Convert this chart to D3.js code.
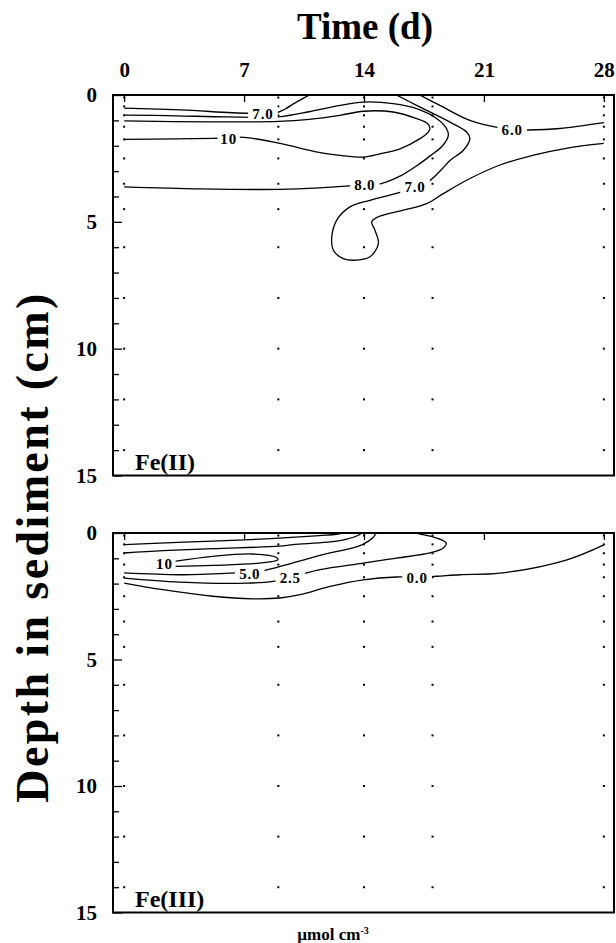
<!DOCTYPE html>
<html><head><meta charset="utf-8">
<script src="https://cdn.jsdelivr.net/npm/d3@7"></script>
<style>
body{margin:0;background:#fff}
svg{display:block}
text{font-family:"Liberation Serif","Times New Roman",serif;font-weight:bold;fill:#000}
</style>
</head><body><svg id="c" width="616" height="943"></svg>
<script>
// ---------- data ----------
const dayTicks = [0, 7, 14, 21, 28];
const depthTicks = d3.range(0, 16);
const depthLabels = [0, 5, 10, 15];
const sampleDays = [0, 9, 14, 18, 28];
const sampleDepths = [0.1, 0.45, 0.8, 1.25, 1.75, 2.5, 3.5, 4.5, 6, 8, 10, 12, 14];

// Fe(II) contour lines: [day, depth cm]
const fe2_7a = [[0,0.52],[3.3,0.59],[7.2,0.72],[8.9,0.7],[9.4,0.55],[9.9,0.34],[10.4,0.15],[10.9,-0.03]];
const fe2_8 = [[0,3.62],[4.4,3.7],[9.1,3.72],[11.4,3.66],[13.3,3.57],[14.1,3.55],[15.0,3.49],[16.1,3.2],[17.1,2.78],[17.9,2.38],[18.6,1.99],[18.92,1.59],[18.82,1.33],[18.24,0.93],[17.07,0.54],[15.71,0.34],[13.96,0.28],[12.6,0.41],[10.8,0.66],[9,0.86],[6,0.86],[3,0.82],[0,0.79]];
const fe2_10 = [[0,1.75],[3,1.73],[5.2,1.71],[7,1.67],[9.1,1.91],[11.2,2.24],[12.6,2.38],[13.96,2.45],[14.93,2.32],[16.1,2.12],[17.27,1.72],[17.75,1.46],[17.85,1.3],[17.7,1.12],[17.07,0.93],[15.71,0.67],[13.96,0.64],[12.6,0.8],[10.8,0.96],[9,1.04],[5,1.06],[0,1.02]];
const fe2_7b = [[15.81,-0.03],[17.07,0.41],[19.02,1.07],[19.99,1.46],[20.18,1.72],[19.8,2.18],[19.02,2.58],[18.55,2.92],[17.75,3.42],[16.98,3.62],[16.2,3.82],[14.35,4.15],[13.18,4.41],[12.41,4.93],[12.12,5.59],[12.21,6.12],[12.79,6.45],[13.57,6.51],[14.35,6.38],[14.84,5.86],[14.64,5.33],[14.45,5.0],[14.84,4.8],[16.29,4.54],[17.66,4.28],[18.63,3.89],[19.99,3.36],[21.93,2.76],[23.9,2.37],[25.8,2.1],[28,1.91]];
const fe2_6 = [[17.17,-0.03],[18.43,0.41],[19.99,0.95],[21.35,1.22],[22.65,1.37],[23.6,1.38],[25.43,1.32],[28,1.09]];
const fe2Labels = ["7.0", "10", "8.0", "7.0", "6.0"];
const fe2LabelDays = [8.1, 6.1, 14.05, 16.98, 22.65];
const fe2LabelDepths = [0.72, 1.71, 3.55, 3.62, 1.37];

// Fe(III) contour lines
const fe3_a = [[0,0.46],[3.5,0.36],[7.06,0.27],[9.06,0.2],[11.4,0.1],[12.4,0.05],[12.9,-0.03]];
const fe3_b = [[0,0.79],[2.26,0.7],[5.18,0.62],[9.06,0.52],[9.86,0.46],[12.6,0.3],[13.67,0.09],[13.9,-0.03]];
const fe3_10 = [[2.94,1.12],[5.18,0.92],[7.5,0.83],[8.87,0.96],[8.97,1.06],[7.9,1.19],[5.18,1.28],[2.94,1.32]];
const fe3_5 = [[0,1.58],[3.25,1.65],[6.55,1.58],[7.33,1.57],[8.11,1.49],[9.5,1.25],[12.02,0.79],[13.3,0.6],[13.96,0.44],[14.5,0.2],[14.74,-0.03]];
const fe3_25 = [[0,1.78],[3.25,1.94],[7.14,1.98],[8.69,1.91],[9.7,1.76],[10.27,1.65],[11.43,1.45],[13.96,1.19],[15.91,0.99],[17.85,0.79],[18.63,0.59],[18.8,0.4],[18.24,0.2],[17.27,0.04],[16.7,-0.03]];
const fe3_0 = [[0,1.98],[2.26,2.24],[5.18,2.5],[7.5,2.6],[9.1,2.57],[10.27,2.44],[12.02,2.11],[13.96,1.85],[15.91,1.74],[17.08,1.75],[18.24,1.71],[19.6,1.65],[21.93,1.59],[25.8,1.07],[28,0.47]];
const fe3Labels = ["10", "5.0", "2.5", "0.0"];
const fe3LabelDays = [2.35, 7.33, 9.7, 17.1];
const fe3LabelDepths = [1.2, 1.6, 1.77, 1.75];

// ---------- drawing ----------
const svg = d3.select("#c");
const x = d3.scaleLinear().domain([-0.65, 28.65]).range([113, 615]);

const panels = [
  {name: "Fe(II)", top: 95, bottom: 475.5, lines: [fe2_7a, fe2_8, fe2_10, fe2_7b, fe2_6],
   labels: fe2Labels, ld: fe2LabelDays, lz: fe2LabelDepths, showDays: true, nameY: 470},
  {name: "Fe(III)", top: 533, bottom: 912.5, lines: [fe3_a, fe3_b, fe3_10, fe3_5, fe3_25, fe3_0],
   labels: fe3Labels, ld: fe3LabelDays, lz: fe3LabelDepths, showDays: false, nameY: 907}
];

panels.forEach((p, i) => {
  const y = d3.scaleLinear().domain([0, 15]).range([p.top, p.bottom]);
  const g = svg.append("g");
  const clipId = "clip" + i;
  svg.append("clipPath").attr("id", clipId).append("rect")
    .attr("x", x.range()[0]).attr("y", p.top)
    .attr("width", x.range()[1] - x.range()[0]).attr("height", p.bottom - p.top);

  // sample points
  const pts = [];
  sampleDays.forEach(d => sampleDepths.forEach(z => pts.push([d, z])));
  g.append("g").selectAll("rect").data(pts).join("rect")
    .attr("x", d => x(d[0]) - 1).attr("y", d => y(d[1]) - 1)
    .attr("width", 2).attr("height", 2).attr("fill", "#000");

  // contour lines
  const line = d3.line().x(d => x(d[0])).y(d => y(d[1])).curve(d3.curveCatmullRom.alpha(0.5));
  g.append("g").attr("clip-path", `url(#${clipId})`).selectAll("path").data(p.lines).join("path")
    .attr("d", line).attr("fill", "none").attr("stroke", "#000").attr("stroke-width", 1.3);

  // contour labels
  const lg = g.append("g");
  p.labels.forEach((t, k) => {
    const cx = x(p.ld[k]), cy = y(p.lz[k]);
    const tw = t.length * 7.2 + 2;
    lg.append("rect").attr("x", cx - tw / 2 - 3).attr("y", cy - 7).attr("width", tw + 6).attr("height", 14).attr("fill", "#fff");
    lg.append("text").attr("x", cx).attr("y", cy).attr("dy", "0.36em").attr("text-anchor", "middle")
      .attr("font-size", 15).attr("letter-spacing", 0.8).text(t);
  });

  // left axis
  const ax = g.append("g").attr("transform", `translate(${x.range()[0]},0)`)
    .call(d3.axisLeft(y).tickValues(depthTicks).tickSize(-6).tickPadding(16)
      .tickFormat(d => depthLabels.includes(d) ? d : ""));
  ax.select(".domain").remove();
  ax.selectAll(".tick line").attr("stroke-width", 1.3)
    .attr("x2", d => (d % 5 === 0 ? 9 : 6));
  ax.selectAll(".tick text").attr("font-size", 21).attr("font-family", null);

  // top axis
  const tx = g.append("g").attr("transform", `translate(0,${p.top})`)
    .call(d3.axisTop(x).tickValues(dayTicks).tickSize(-7).tickPadding(18)
      .tickFormat(d => p.showDays ? d : ""));
  tx.select(".domain").remove();
  tx.selectAll(".tick line").attr("stroke-width", 1.3);
  tx.selectAll(".tick text").attr("font-size", 21).attr("font-family", null);

  // frame
  g.append("rect").attr("x", x.range()[0]).attr("y", p.top)
    .attr("width", x.range()[1] - x.range()[0] - 1).attr("height", p.bottom - p.top)
    .attr("fill", "none").attr("stroke", "#000").attr("stroke-width", 2);

  // panel name
  g.append("text").attr("x", 135).attr("y", p.nameY).attr("font-size", 24).text(p.name);
});

// titles
svg.append("text").attr("x", 365).attr("y", 39).attr("text-anchor", "middle")
  .attr("font-size", 37).text("Time (d)");
svg.append("text").attr("transform", "translate(48,547) rotate(-90)").attr("text-anchor", "middle")
  .attr("font-size", 46).attr("letter-spacing", 2.4).text("Depth in sediment (cm)");
const u = svg.append("text").attr("x", 333).attr("y", 940).attr("text-anchor", "middle").attr("font-size", 17);
u.append("tspan").text("µmol cm");
u.append("tspan").attr("font-size", 10).attr("dy", -6).text("-3");
</script>
</body></html>
